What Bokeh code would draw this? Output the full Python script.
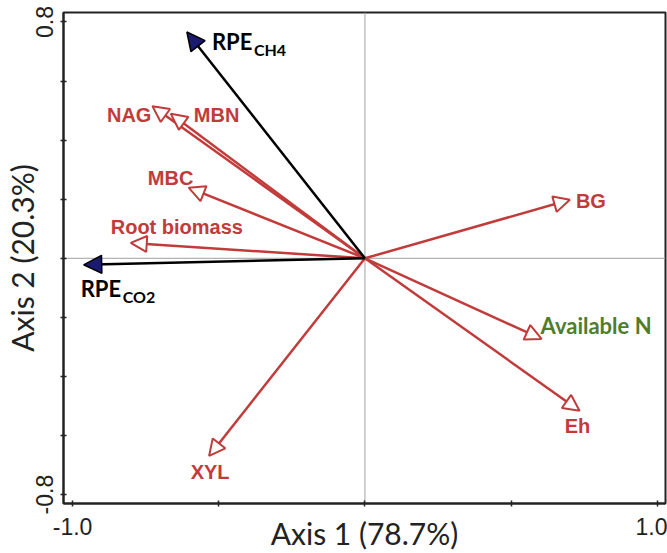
from bokeh.plotting import figure
from bokeh.models import Range1d, FixedTicker, Arrow, NormalHead, ColumnDataSource, Span
from bokeh.embed import file_html
from bokeh.resources import INLINE
from bokeh.core.properties import value

# ---- data (biplot scores) ----
env_labels = ["NAG", "MBN", "MBC", "Root biomass", "BG", "Available N", "Eh", "XYL"]
env_x = [-0.727, -0.664, -0.603, -0.801, 0.701, 0.604, 0.734, -0.533]
env_y = [0.515, 0.489, 0.239, 0.052, 0.198, -0.273, -0.516, -0.669]

rpe_labels = ["RPE", "RPE"]
rpe_subs = ["CH4", "CO2"]
rpe_x = [-0.609, -0.962]
rpe_y = [0.766, -0.022]

x_ticks = [-1.0, -0.5, 0.0, 0.5, 1.0]
x_tick_labels = ["-1.0", "", "", "", "1.0"]
y_ticks = [-0.8, -0.6, -0.4, -0.2, 0.0, 0.2, 0.4, 0.6, 0.8]
y_tick_labels = ["-0.8", "", "", "", "", "", "", "", "0.8"]

x_title = "Axis 1 (78.7%)"
y_title = "Axis 2 (20.3%)"

# ---- styles / layout ----
RED = "#c23b3b"
GREEN = "#4f7d2b"
NAVY = "#1a1a70"
# label placement relative to arrow tip: (dx px, dy px down, align)
LBL = {
    "NAG": (-1, 9, "right"),
    "MBN": (23, 1, "left"),
    "MBC": (-18, -10, "center"),
    "Root biomass": (-20, -16, "left"),
    "BG": (6, 1, "left"),
    "Available N": (-1, -13, "left"),
    "Eh": (-2, 15, "center"),
    "XYL": (1, 16, "center"),
}
LBL_SIZE = {"Available N": "22px"}
RPE_LBL = [(25, 10), (-3, 24)]

p = figure(width=667, height=553, output_backend="svg", toolbar_location=None,
           x_range=Range1d(-1.031, 1.028), y_range=Range1d(-0.830, 0.832),
           min_border_left=63, min_border_right=2, min_border_top=12, min_border_bottom=50)
p.xgrid.visible = False
p.ygrid.visible = False
p.outline_line_color = "#222222"
p.outline_line_width = 2
p.background_fill_color = "white"

p.xaxis.ticker = FixedTicker(ticks=x_ticks)
p.yaxis.ticker = FixedTicker(ticks=y_ticks)
p.xaxis.major_label_overrides = {t: s for t, s in zip(x_ticks, x_tick_labels)}
p.yaxis.major_label_overrides = {t: s for t, s in zip(y_ticks, y_tick_labels)}
p.yaxis.major_label_orientation = "vertical"
for ax in (p.xaxis, p.yaxis):
    ax.axis_line_color = "#222222"
    ax.axis_line_width = 2
    ax.major_tick_line_color = "#222222"
    ax.major_tick_line_width = 1.5
    ax.major_tick_in = 3
    ax.major_tick_out = 3
    ax.minor_tick_line_color = None
    ax.major_label_text_font = "Liberation Sans"
    ax.major_label_text_font_size = "23px"
    ax.major_label_text_color = "#222222"
    ax.axis_label_text_font = "Lato"
    ax.axis_label_text_font_style = "normal"
    ax.axis_label_text_font_size = "30px"
    ax.axis_label_text_color = "#222222"
p.xaxis.axis_label = x_title
p.yaxis.axis_label = y_title
p.xaxis.major_label_standoff = 11
p.yaxis.major_label_standoff = 7
p.xaxis.axis_label_standoff = -23
p.yaxis.axis_label_standoff = -6

p.add_layout(Span(location=0, dimension="height", line_color="#a0a0a0", line_width=1, level="underlay"))
p.add_layout(Span(location=0, dimension="width", line_color="#a0a0a0", line_width=1, level="underlay"))

env_src = ColumnDataSource(dict(x=env_x, y=env_y))
p.add_layout(Arrow(end=NormalHead(size=16, fill_color="white", line_color=RED, line_width=2),
                   x_start=0, y_start=0, x_end="x", y_end="y", source=env_src,
                   line_color=RED, line_width=2.5))

rpe_src = ColumnDataSource(dict(x=rpe_x, y=rpe_y))
p.add_layout(Arrow(end=NormalHead(size=18, fill_color=NAVY, line_color="black", line_width=1.5),
                   x_start=0, y_start=0, x_end="x", y_end="y", source=rpe_src,
                   line_color="black", line_width=2.5))

for lab, xv, yv in zip(env_labels, env_x, env_y):
    dx, dy, al = LBL[lab]
    col = GREEN if lab == "Available N" else RED
    font = "Lato" if lab == "Available N" else "Liberation Sans"
    p.text(x=[xv], y=[yv], text=[lab], x_offset=dx, y_offset=dy, text_align=al,
           text_baseline="middle", text_color=col, text_font=value(font),
           text_font_style="bold", text_font_size=LBL_SIZE.get(lab, "20px"))

for lab, sub, xv, yv, (dx, dy) in zip(rpe_labels, rpe_subs, rpe_x, rpe_y, RPE_LBL):
    p.text(x=[xv], y=[yv], text=[lab], x_offset=dx, y_offset=dy, text_align="left",
           text_baseline="middle", text_color="black", text_font=value("Lato"),
           text_font_style="bold", text_font_size="22px")
    p.text(x=[xv], y=[yv], text=[sub], x_offset=dx + 42, y_offset=dy + 8, text_align="left",
           text_baseline="middle", text_color="black", text_font=value("Lato"),
           text_font_style="bold", text_font_size="16px")

open("out.html", "w").write(file_html(p, INLINE))
